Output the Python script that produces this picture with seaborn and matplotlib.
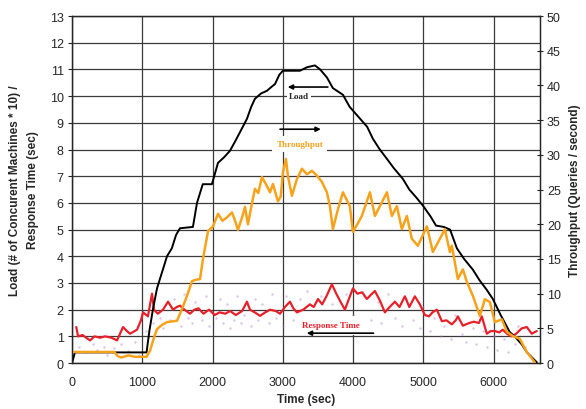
import seaborn as sns
import matplotlib.pyplot as plt
import pandas as pd

# Load (# machines * 10)
load_t = [0, 40, 1060, 1100, 1150, 1209, 1280, 1351, 1420, 1480, 1536, 1720, 1778, 1860, 1990,
          2077, 2160, 2247, 2320, 2390, 2489, 2550, 2603, 2690, 2774, 2840, 2888, 2950, 3001,
          3243, 3343, 3456, 3530, 3627, 3712, 3855, 3950, 4100, 4200, 4282, 4380, 4481, 4580,
          4708, 4800, 4900, 4993, 5100, 5180, 5290, 5380, 5477, 5580, 5704, 5800, 5900, 5989,
          6100, 6230, 6300, 6400, 6472, 6550, 6614]
load_v = [0, 0.4, 0.4, 1.2, 2.0, 2.8, 3.4, 4.0, 4.3, 4.8, 5.05, 5.1, 6.0, 6.7, 6.7,
          7.5, 7.7, 7.95, 8.3, 8.65, 9.15, 9.6, 9.9, 10.1, 10.2, 10.35, 10.45, 10.8, 10.95,
          10.95, 11.08, 11.15, 11.0, 10.7, 10.3, 10.05, 9.6, 9.15, 8.85, 8.4, 8.0, 7.65, 7.3,
          6.9, 6.5, 6.2, 5.9, 5.5, 5.15, 5.1, 5.0, 4.3, 3.9, 3.5, 3.1, 2.75, 2.4,
          1.8, 1.16, 1.0, 0.7, 0.41, 0.2, 0.03]

# Throughput (queries / second)
thr_t = [30, 600, 650, 700, 800, 900, 1000, 1060, 1110, 1160, 1209, 1280, 1351, 1420, 1494,
         1565, 1636, 1707, 1760, 1821, 1863, 1935, 2006, 2077, 2140, 2205, 2276, 2320, 2361,
         2420, 2461, 2503, 2560, 2603, 2650, 2703, 2774, 2817, 2859, 2930, 2970, 3001, 3044,
         3073, 3129, 3200, 3272, 3343, 3414, 3485, 3556, 3627, 3670, 3712, 3780, 3855, 3954,
         3997, 4060, 4125, 4239, 4310, 4381, 4481, 4552, 4623, 4694, 4765, 4836, 4922, 5050,
         5135, 5235, 5306, 5377, 5405, 5491, 5562, 5619, 5704, 5804, 5875, 5946, 6017, 6117,
         6188, 6273, 6372, 6472, 6586]
thr_v = [1.6, 1.6, 1.0, 0.8, 1.1, 0.9, 0.9, 0.9, 1.8, 3.5, 4.9, 5.5, 5.9, 6.0, 6.1,
         7.8, 9.7, 11.8, 12.0, 12.1, 15.0, 19.0, 19.7, 21.5, 20.5, 21.0, 21.7, 20.5, 19.2,
         21.0, 22.5, 20.0, 23.0, 25.1, 24.5, 26.8, 25.5, 24.6, 25.8, 23.3, 24.0, 27.5, 29.4,
         26.9, 24.1, 26.5, 28.0, 27.2, 27.7, 27.0, 26.1, 24.6, 22.6, 19.3, 22.0, 24.6, 22.6,
         18.9, 20.0, 21.2, 24.6, 21.2, 22.6, 24.6, 21.2, 22.6, 19.3, 21.2, 17.9, 16.9, 19.7,
         16.0, 17.9, 19.3, 16.0, 16.9, 12.1, 13.5, 11.7, 9.7, 6.8, 9.2, 8.8, 5.9, 6.3,
         4.5, 3.9, 3.5, 1.6, 0.1]

# Response time (sec)
rt_t = [60, 85, 150, 200, 256, 320, 398, 470, 560, 640, 725, 780, 825, 925, 980, 1010, 1080,
        1110, 1138, 1166, 1220, 1294, 1366, 1437, 1490, 1536, 1600, 1678, 1740, 1800, 1870,
        1950, 2030, 2100, 2180, 2250, 2330, 2420, 2489, 2532, 2600, 2674, 2750, 2816, 2900,
        2960, 3030, 3101, 3150, 3200, 3290, 3385, 3440, 3500, 3560, 3620, 3698, 3760, 3820,
        3883, 3940, 3997, 4060, 4130, 4196, 4250, 4310, 4380, 4452, 4520, 4595, 4660, 4737,
        4800, 4879, 4950, 5021, 5080, 5130, 5192, 5263, 5330, 5405, 5460, 5491, 5562, 5650,
        5720, 5790, 5832, 5903, 5960, 6017, 6080, 6130, 6190, 6259, 6320, 6400, 6472, 6543, 6614]
rt_v = [1.35, 1.0, 1.05, 0.95, 0.85, 1.0, 0.95, 1.0, 0.95, 0.85, 1.35, 1.2, 1.1, 1.25, 1.6, 1.9, 1.75,
        2.2, 2.6, 2.0, 1.85, 2.0, 2.3, 2.0, 2.1, 2.15, 2.0, 1.85, 2.0, 2.05, 1.85,
        2.0, 1.8, 1.9, 1.85, 1.95, 1.8, 1.95, 2.3, 2.0, 1.9, 1.77, 1.9, 2.0, 1.95,
        1.85, 2.1, 2.3, 2.05, 1.9, 2.0, 2.2, 2.1, 2.4, 2.2, 2.5, 2.95, 2.6, 2.3,
        2.0, 2.4, 2.8, 2.6, 2.65, 2.4, 2.55, 2.7, 2.35, 1.9, 2.1, 2.3, 2.1, 2.5,
        2.1, 2.5, 2.2, 1.8, 1.75, 1.9, 2.0, 1.57, 1.6, 1.45, 1.6, 1.75, 1.4, 1.5,
        1.55, 1.5, 1.75, 1.1, 1.2, 1.2, 1.15, 1.25, 1.1, 1.0, 1.1, 1.3, 1.35, 1.1, 1.2]

# individual query response times (faint purple dots), a hand-read sample
dots_t = [100, 200, 300, 350, 450, 500, 600, 700, 800, 900, 950, 1050, 1150, 1250, 1300, 1400,
          1450, 1550, 1600, 1650, 1700, 1750, 1850, 1900, 1950, 2050, 2100, 2150, 2200, 2250,
          2300, 2350, 2400, 2450, 2550, 2600, 2650, 2700, 2800, 2850, 2900, 3000, 3050, 3150,
          3250, 3300, 3350, 3450, 3550, 3600, 3700, 3800, 3900, 4000, 4050, 4150, 4250, 4350,
          4400, 4500, 4600, 4700, 4750, 4850, 4950, 5000, 5100, 5150, 5250, 5300, 5400, 5450,
          5550, 5600, 5700, 5750, 5850, 5900, 6000, 6050, 6150, 6200, 6300, 6350, 6450, 6500]
dots_v = [0.6, 0.4, 0.7, 0.5, 0.6, 0.3, 0.55, 0.7, 0.45, 0.8, 0.3, 1.2, 1.5, 1.7, 1.3, 1.6,
          2.4, 1.4, 2.6, 1.7, 1.5, 2.3, 1.6, 2.5, 1.4, 1.7, 2.4, 1.5, 2.2, 1.3,
          1.6, 2.5, 1.5, 1.8, 1.4, 2.4, 1.6, 2.2, 1.5, 2.6, 1.7, 1.4, 2.5, 1.6,
          2.4, 1.5, 2.7, 1.7, 2.5, 1.6, 2.2, 1.5, 2.6, 1.8, 1.4, 2.5, 1.6, 2.3,
          1.5, 2.6, 1.7, 1.4, 2.4, 1.6, 1.3, 2.1, 1.2, 1.7, 1.0, 1.4, 0.9, 1.8,
          1.1, 0.8, 1.3, 0.7, 1.2, 0.6, 1.0, 0.5, 0.9, 0.4, 0.7, 1.4, 0.6, 0.3]

load_df = pd.DataFrame({"t": load_t, "v": load_v})
thr_df = pd.DataFrame({"t": thr_t, "v": thr_v})
rt_df = pd.DataFrame({"t": rt_t, "v": rt_v})
dots_df = pd.DataFrame({"t": dots_t, "v": dots_v})

sns.set_style("white")
plt.rcParams["font.family"] = ["Liberation Sans", "DejaVu Sans"]

fig = plt.figure(figsize=(5.86, 4.10), dpi=100)
ax = fig.add_axes([0.123, 0.112, 0.7985, 0.8465])

sns.scatterplot(data=dots_df, x="t", y="v", ax=ax, color="#b27acb", s=3, alpha=0.45,
                linewidth=0, zorder=2)
sns.lineplot(data=rt_df, x="t", y="v", ax=ax, color="#e8202a", linewidth=1.6, zorder=4)
sns.lineplot(data=load_df, x="t", y="v", ax=ax, color="black", linewidth=1.4, zorder=5)

ax.set_xlim(0, 6660)
ax.set_ylim(0, 13)
ax.set_xticks(range(0, 7000, 1000))
ax.set_yticks(range(0, 14))
ax.grid(True, color="#3a3a3a", linewidth=0.9)
ax.set_axisbelow(True)
for s in ax.spines.values():
    s.set_color("#222222")
    s.set_linewidth(1.0)
ax.tick_params(axis="y", labelsize=9, length=3, color="#222222", pad=3, left=True)
ax.tick_params(axis="x", labelsize=9, length=0, pad=9)
ax.set_xlabel("Time (sec)", fontsize=8.5, fontweight="bold", labelpad=4)
ax.set_ylabel("Load (# of Concurent Machines * 10) /\nResponse Time (sec)", fontsize=8.5,
              fontweight="bold", labelpad=8, linespacing=1.6)

ax2 = ax.twinx()
sns.lineplot(data=thr_df, x="t", y="v", ax=ax2, color="#f7a21b", linewidth=1.8, zorder=3)
ax2.set_ylim(0, 50)
ax2.set_yticks(range(0, 55, 5))
ax2.grid(False)
ax2.tick_params(axis="y", labelsize=9, length=4, direction="inout", color="#222222", right=True, pad=3)
ax2.set_ylabel("Throughput (Queries / second)", fontsize=8.5, fontweight="bold", labelpad=6)
ax2.set_xlabel("")

# annotations with arrows
serif = ["Liberation Serif", "DejaVu Serif"]
box = dict(facecolor="white", edgecolor="none", pad=1.5)
ax.annotate("", xy=(3030, 10.34), xytext=(3680, 10.34),
            arrowprops=dict(arrowstyle="-|>", color="black", lw=1.2, mutation_scale=7), zorder=6)
ax.text(3230, 10.0, "Load", fontsize=6.5, fontweight="bold", family=serif, color="#222222",
        ha="center", va="center", bbox=box, zorder=6)
ax.annotate("", xy=(3580, 8.76), xytext=(2920, 8.76),
            arrowprops=dict(arrowstyle="-|>", color="black", lw=1.2, mutation_scale=7), zorder=6)
ax.text(3240, 8.2, "Throughput", fontsize=6.5, fontweight="bold", family=serif, color="#f7a21b",
        ha="center", va="center", bbox=dict(facecolor="white", edgecolor="none", pad=3), zorder=6)
ax.text(3690, 1.42, "Response Time", fontsize=6.5, fontweight="bold", family=serif, color="#e8202a",
        ha="center", va="center", bbox=dict(facecolor="white", edgecolor="none", pad=4), zorder=6)
ax.annotate("", xy=(3300, 1.12), xytext=(4330, 1.12),
            arrowprops=dict(arrowstyle="-|>", color="black", lw=1.2, mutation_scale=7), zorder=7)

plt.savefig("out.png", dpi=100)
